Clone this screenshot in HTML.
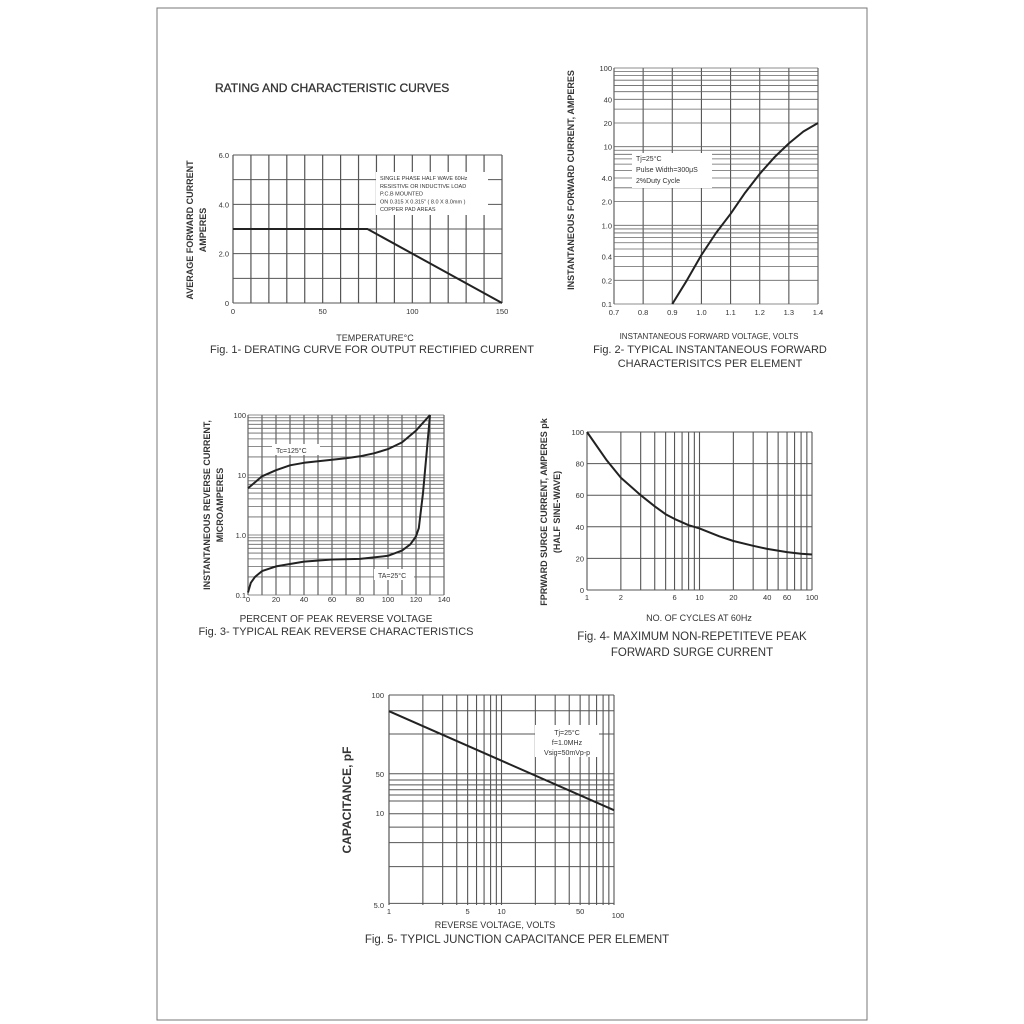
<!DOCTYPE html>
<html><head><meta charset="utf-8">
<style>
html,body{margin:0;padding:0;background:#fff;}
svg{display:block;font-family:"Liberation Sans",sans-serif;}
</style></head>
<body>
<svg id="pg" width="1024" height="1024" viewBox="0 0 1024 1024" xmlns="http://www.w3.org/2000/svg">
<rect x="157" y="8" width="710" height="1012" fill="#fff" stroke="#777" stroke-width="1"/>
<text x="215" y="92" font-size="12" fill="#333" stroke="#333" stroke-width="0.3">RATING AND CHARACTERISTIC CURVES</text>
</svg>
<script>
// Fig 1 data
const f1Temp=[0,75,150];
const f1Current=[3,3,0];
const f1YTicks=[0,2.0,4.0,6.0];
const f1YTickLabels=["0","2.0","4.0","6.0"];
const f1XTicks=[0,50,100,150];
// Fig 2 data
const f2Volt=[0.9,0.95,1.0,1.05,1.1,1.15,1.2,1.25,1.3,1.35,1.4];
const f2Amp=[0.1,0.2,0.42,0.8,1.4,2.6,4.5,7.3,11,15.6,20];
const f2YTicks=[100,40,20,10,4,2,1,0.4,0.2,0.1];
const f2YTickLabels=["100","40","20","10","4.0","2.0","1.0","0.4","0.2","0.1"];
const f2XTicks=[0.7,0.8,0.9,1.0,1.1,1.2,1.3,1.4];
// Fig 3 data
const f3PctHot=[0,10,20,30,40,50,60,70,80,90,100,110,120,130];
const f3CurHot=[6,9.5,12,14.5,16,17,18,19,20.5,23,27,35,55,100];
const f3PctCold=[0,2,5,10,20,40,60,80,100,110,116,120,122,125,128,130];
const f3CurCold=[0.11,0.16,0.2,0.25,0.3,0.36,0.39,0.4,0.45,0.55,0.7,0.95,1.3,5,30,100];
const f3XTicks=[0,20,40,60,80,100,120,140];
const f3YTicks=[100,10,1,0.1];
const f3YTickLabels=["100","10","1.0","0.1"];
// Fig 4 data
const f4Cycles=[1,1.5,2,3,4,5,6,8,10,15,20,30,40,60,80,100];
const f4Amps=[100,82,71,60,53,48,45,41,39,34,31,28,26,24,23,22.5];
const f4XTicks=[1,2,6,10,20,40,60,100];
const f4YTicks=[0,20,40,60,80,100];
// Fig 5 data
const f5Volt=[1,100];
const f5Cap=[78,17.1];
const f5XTicks=[1,5,10,50,100];
const f5YTickLabels=["100","50","10","5.0"];
const f5YTickVals=[100,29.9,16.4,4];
const f5GridVals=[100,78.6,55,29.9,27.2,25.2,23.4,21.6,19.7,16.2,13.2,10.4,7.2,4.1];

const NS="http://www.w3.org/2000/svg";
const pg=document.getElementById('pg');
function el(tag,attrs,parent,txt){const e=document.createElementNS(NS,tag);for(const k in attrs)e.setAttribute(k,attrs[k]);if(txt!==undefined)e.textContent=txt;(parent||pg).appendChild(e);return e;}
function lin(d0,d1,r0,r1){return v=>r0+(v-d0)/(d1-d0)*(r1-r0);}
function logs(d0,d1,r0,r1){return v=>r0+(Math.log10(v)-Math.log10(d0))/(Math.log10(d1)-Math.log10(d0))*(r1-r0);}
function grp(name){const g=el('g',{});return g;}
function line(g,x1,y1,x2,y2,w,c){el('line',{x1,y1,x2,y2,stroke:c||'#666','stroke-width':w||0.8},g);}
function curve(g,xs,ys,X,Y,name){
  let d='';xs.forEach((v,i)=>{d+=(i?'L':'M')+X(v).toFixed(1)+','+Y(ys[i]).toFixed(1);});
  const p=el('path',{d,fill:'none',stroke:'#222','stroke-width':2,'stroke-linejoin':'round'},g);
  
}
function txt(g,x,y,s,size,anchor,extra){const t=el('text',Object.assign({x,y,'font-size':size,fill:'#333','text-anchor':anchor||'start'},extra||{}),g,s);return t;}
function vtxt(g,x,y,s,size,name){const t=txt(g,x,y,s,size,'middle',{transform:`rotate(-90 ${x} ${y})`,'font-weight':'bold'});}
function logGrid(g,d0,d1,fn){for(let e=Math.floor(Math.log10(d0));e<Math.log10(d1);e++){for(let m=1;m<10;m++){const v=m*Math.pow(10,e);if(v>=d0-1e-9&&v<=d1+1e-9)fn(v);}}fn(d1);}

// ---- Fig 1 ----
(function(){
const g=grp('fig1-derating-chart');
const X=lin(0,150,233,502),Y=lin(0,6,303,155);
for(let v=0;v<=150;v+=10)line(g,X(v),155,X(v),303,1.2,'#555');
for(let v=0;v<=6;v+=1)line(g,233,Y(v),502,Y(v),1,'#555');
el('rect',{x:376,y:172,width:112,height:43,fill:'#fff'},g);
['SINGLE PHASE HALF WAVE 60Hz','RESISTIVE OR INDUCTIVE LOAD','P.C.B MOUNTED','ON 0.315 X 0.315" ( 8.0 X 8.0mm )','COPPER PAD AREAS'].forEach((s,i)=>txt(g,380,180+i*7.8,s,5.5));
curve(g,f1Temp,f1Current,X,Y,'derating-line');
f1YTicks.forEach((v,i)=>txt(g,229,Y(v)+3,f1YTickLabels[i],7.5,'end'));
f1XTicks.forEach(v=>txt(g,X(v),314,String(v),7.5,'middle'));
vtxt(g,193,230,'AVERAGE FORWARD CURRENT',9,'y-axis-title');
vtxt(g,206,230,'AMPERES',9,'y-axis-title-2');
txt(g,375,341,'TEMPERATURE°C',9,'middle');
txt(g,372,353,'Fig. 1- DERATING CURVE FOR OUTPUT RECTIFIED CURRENT',11,'middle');
})();

// ---- Fig 2 ----
(function(){
const g=grp('fig2-forward-chart');
const X=lin(0.7,1.4,614,818),Y=logs(0.1,100,304,68);
f2XTicks.forEach(v=>line(g,X(v),68,X(v),304,1.1,'#555'));
logGrid(g,0.1,100,v=>line(g,614,Y(v),818,Y(v),0.8,'#666'));
el('rect',{x:632,y:153,width:80,height:35,fill:'#fff'},g);
txt(g,636,161,'Tj=25°C',7);txt(g,636,172,'Pulse Width=300μS',7);txt(g,636,183,'2%Duty Cycle',7);
curve(g,f2Volt,f2Amp,X,Y,'forward-curve');
f2YTicks.forEach((v,i)=>txt(g,612,Y(v)+3,f2YTickLabels[i],7.5,'end'));
f2XTicks.forEach(v=>txt(g,X(v),315,v.toFixed(1),7.5,'middle'));
vtxt(g,574,180,'INSTANTANEOUS FORWARD CURRENT, AMPERES',9,'y-axis-title');
txt(g,709,339,'INSTANTANEOUS FORWARD VOLTAGE, VOLTS',8,'middle');
txt(g,710,353,'Fig. 2- TYPICAL INSTANTANEOUS FORWARD',11,'middle');
txt(g,710,367,'CHARACTERISITCS PER ELEMENT',11,'middle');
})();

// ---- Fig 3 ----
(function(){
const g=grp('fig3-reverse-chart');
const X=lin(0,140,248,444),Y=logs(0.1,100,595,415);
for(let v=0;v<=140;v+=10)line(g,X(v),415,X(v),595,1.1,'#555');
logGrid(g,0.1,100,v=>line(g,248,Y(v),444,Y(v),0.8,'#666'));
el('rect',{x:272,y:444,width:48,height:11,fill:'#fff'},g);
txt(g,276,453,'Tc=125°C',7);
el('rect',{x:374,y:569,width:40,height:11,fill:'#fff'},g);
txt(g,378,578,'TA=25°C',7);
curve(g,f3PctHot,f3CurHot,X,Y,'tc-125-curve');
curve(g,f3PctCold,f3CurCold,X,Y,'ta-25-curve');
f3YTicks.forEach((v,i)=>txt(g,246,Y(v)+3,f3YTickLabels[i],7.5,'end'));
f3XTicks.forEach(v=>txt(g,X(v),602,String(v),7.5,'middle'));
vtxt(g,210,505,'INSTANTANEOUS REVERSE CURRENT,',9,'y-axis-title');
vtxt(g,223,505,'MICROAMPERES',9,'y-axis-title-2');
txt(g,336,622,'PERCENT OF PEAK REVERSE VOLTAGE',10,'middle');
txt(g,336,635,'Fig. 3- TYPICAL REAK REVERSE CHARACTERISTICS',11,'middle');
})();

// ---- Fig 4 ----
(function(){
const g=grp('fig4-surge-chart');
const X=logs(1,100,587,812),Y=lin(0,100,590,432);
logGrid(g,1,100,v=>line(g,X(v),432,X(v),590,1.1,'#555'));
for(let v=0;v<=100;v+=20)line(g,587,Y(v),812,Y(v),1,'#555');
curve(g,f4Cycles,f4Amps,X,Y,'surge-curve');
f4YTicks.forEach(v=>txt(g,584,Y(v)+3,String(v),7.5,'end'));
f4XTicks.forEach(v=>txt(g,X(v),600,String(v),7.5,'middle'));
vtxt(g,547,512,'FPRWARD SURGE CURRENT, AMPERES pk',9,'y-axis-title');
vtxt(g,560,512,'(HALF SINE-WAVE)',9,'y-axis-title-2');
txt(g,699,621,'NO. OF CYCLES AT 60Hz',9,'middle');
txt(g,692,640,'Fig. 4- MAXIMUM NON-REPETITEVE PEAK',11.5,'middle');
txt(g,692,656,'FORWARD SURGE CURRENT',11.5,'middle');
})();

// ---- Fig 5 ----
(function(){
const g=grp('fig5-capacitance-chart');
const X=logs(1,100,389,614),Y=logs(4,100,905,695);
logGrid(g,1,100,v=>line(g,X(v),695,X(v),905,1.1,'#555'));
f5GridVals.forEach(v=>line(g,389,Y(v),614,Y(v),1,'#555'));
line(g,389,695,389,905,1.1,'#555');
el('rect',{x:535,y:725,width:64,height:32,fill:'#fff'},g);
txt(g,567,735,'Tj=25°C',7,'middle');txt(g,567,745,'f=1.0MHz',7,'middle');txt(g,567,755,'Vsig=50mVp-p',7,'middle');
curve(g,f5Volt,f5Cap,X,Y,'capacitance-line');
f5YTickVals.forEach((v,i)=>txt(g,384,Y(v)+3,f5YTickLabels[i],7.5,'end'));
f5XTicks.forEach(v=>txt(g,X(v)+(v===100?4:0),v===100?918:914,String(v),7.5,'middle'));
vtxt(g,351,800,'CAPACITANCE, pF',12,'y-axis-title');
txt(g,495,928,'REVERSE VOLTAGE, VOLTS',9,'middle');
txt(g,517,943,'Fig. 5- TYPICL JUNCTION CAPACITANCE PER ELEMENT',11.5,'middle');
})();
</script>
</body></html>
